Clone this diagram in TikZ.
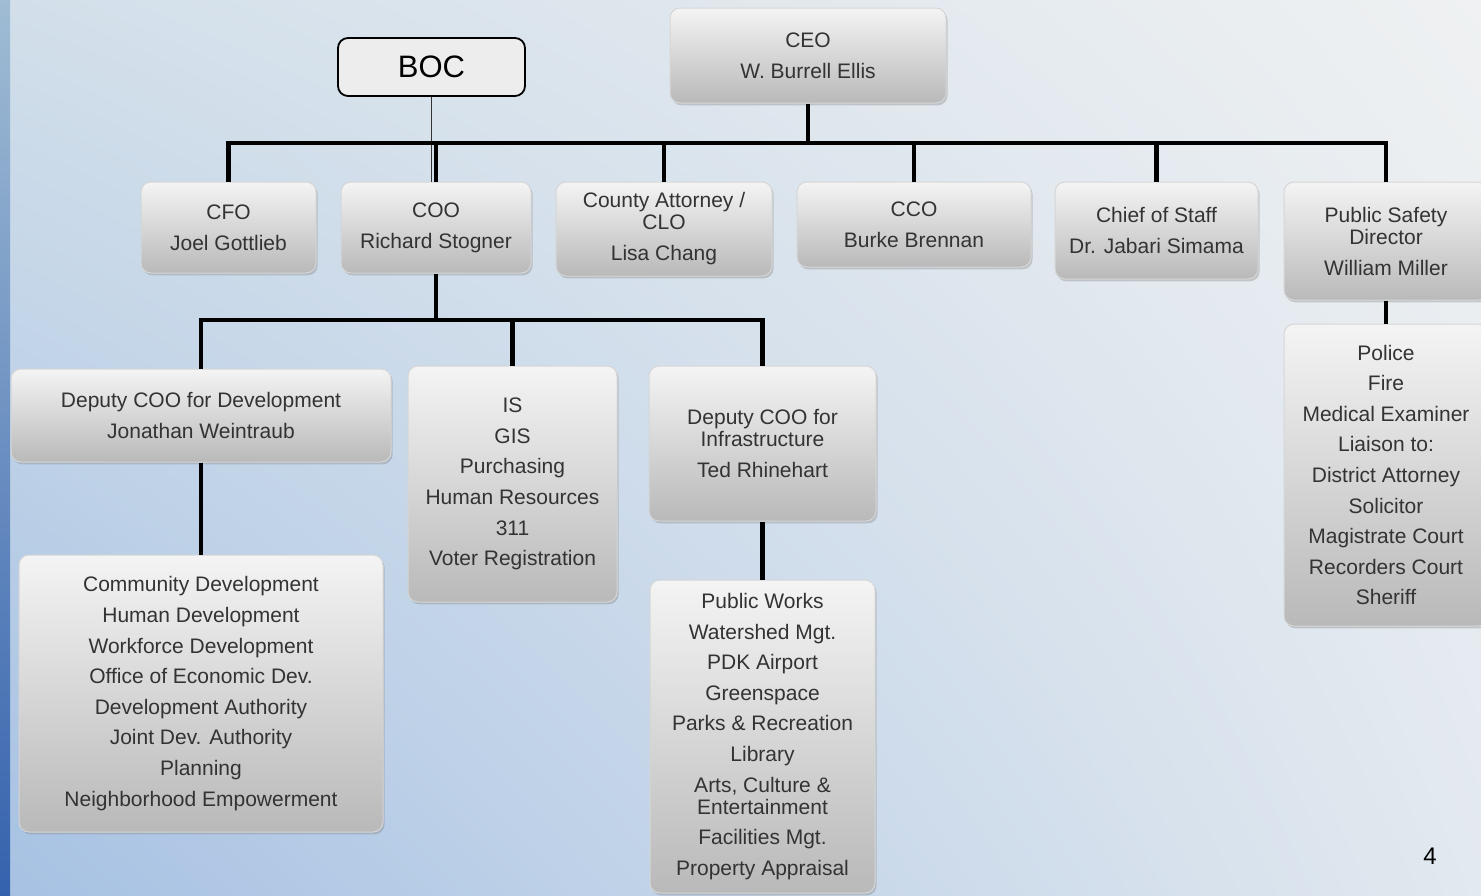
\documentclass[tikz,border=0pt]{standalone}
\usepackage{fontspec}
\setmainfont{Liberation Sans}
\usetikzlibrary{shadows,shadings}
\definecolor{txt}{HTML}{333333}
\definecolor{boxtop}{HTML}{F4F4F4}
\definecolor{boxbot}{HTML}{B9B9B9}
\definecolor{boxedge}{HTML}{D6D6D6}
\definecolor{bgUL}{HTML}{D2DFEA}
\definecolor{bgUR}{HTML}{EFF1F2}
\definecolor{bgLL}{HTML}{A6C1E3}
\definecolor{bgLR}{HTML}{E2E9EF}
\definecolor{barTop}{HTML}{A0BCD4}
\definecolor{barBot}{HTML}{3562AD}
\definecolor{bocfill}{HTML}{EDEDED}
\tikzset{
  box/.style={rectangle, rounded corners=5pt, draw=boxedge, line width=0.5pt,
    top color=boxtop, bottom color=boxbot, align=center, text=txt,
    font=\fontsize{10.5}{11}\selectfont, inner sep=0pt,
    drop shadow={shadow xshift=0.8pt, shadow yshift=-1.2pt, opacity=0.35, fill=gray}},
  bocbox/.style={rectangle, rounded corners=5pt, draw=black, line width=0.9pt,
    fill=bocfill, font=\fontsize{15.5}{18}\selectfont, text=black, inner sep=0pt},
  conn/.style={line width=2.2pt, black},
  thinconn/.style={line width=0.7pt, black!80},
}
\begin{document}
\begin{tikzpicture}[x=0.5pt,y=-0.5pt]
\useasboundingbox (0,0) rectangle (1481,895);
\clip (0,0) rectangle (1481,895);
% background
\shade[upper left=bgUL, upper right=bgUR, lower left=bgLL, lower right=bgLR] (0,0) rectangle (1481,895);
\shade[top color=barTop, bottom color=barBot] (0,0) rectangle (10,895);

% top level
\node[bocbox, minimum width=93.5pt, minimum height=29pt] (boc) at (431.5,67) {\raisebox{-1.5pt}{BOC}};
\node[box, minimum width=138pt, minimum height=47.5pt] (ceo) at (808,55.5) {CEO\\[4.5pt]W. Burrell Ellis};

% second level
\node[box, minimum width=87.5pt, minimum height=45.5pt] (cfo) at (228.5,227.5) {CFO\\[4.5pt]Joel Gottlieb};
\node[box, minimum width=95pt, minimum height=45.5pt] (coo) at (436,227.5) {COO\\[4.5pt]Richard Stogner};
\node[box, minimum width=108pt, minimum height=47pt] (ca) at (664,229) {County Attorney /\\CLO\\[4.5pt]Lisa Chang};
\node[box, minimum width=117pt, minimum height=42.5pt] (cco) at (914,224.5) {CCO\\[4.5pt]Burke Brennan};
\node[box, minimum width=101.5pt, minimum height=48.5pt] (cos) at (1156.5,230.5) {Chief of Staff\\[4.5pt]Dr. Jabari Simama};
\node[box, minimum width=102pt, minimum height=59pt] (psd) at (1386,241) {Public Safety\\Director\\[4.5pt]William Miller};

% third level
\node[box, minimum width=190pt, minimum height=46.5pt] (dev) at (201,415.5) {Deputy COO for Development\\[4.5pt]Jonathan Weintraub};
\node[box, minimum width=104.5pt, minimum height=118pt] (is) at (512.5,484) {IS\\[4.3pt]GIS\\[4.3pt]Purchasing\\[4.3pt]Human Resources\\[4.3pt]311\\[4.3pt]Voter Registration};
\node[box, minimum width=113.5pt, minimum height=77.5pt] (infra) at (762.5,443.5) {Deputy COO for\\Infrastructure\\[4.5pt]Ted Rhinehart};
\node[box, minimum width=102pt, minimum height=151pt] (police) at (1386,475) {Police\\[4.3pt]Fire\\[4.3pt]Medical Examiner\\[4.3pt]Liaison to:\\[4.3pt]District Attorney\\[4.3pt]Solicitor\\[4.3pt]Magistrate Court\\[4.3pt]Recorders Court\\[4.3pt]Sheriff};

% fourth level
\node[box, minimum width=182pt, minimum height=138.5pt] (comm) at (201,693.5) {Community Development\\[4.3pt]Human Development\\[4.3pt]Workforce Development\\[4.3pt]Office of Economic Dev.\\[4.3pt]Development Authority\\[4.3pt]Joint Dev. Authority\\[4.3pt]Planning\\[4.3pt]Neighborhood Empowerment};
\node[box, minimum width=112.5pt, minimum height=156.5pt] (pw) at (762.5,736.5) {Public Works\\[4.3pt]Watershed Mgt.\\[4.3pt]PDK Airport\\[4.3pt]Greenspace\\[4.3pt]Parks \& Recreation\\[4.3pt]Library\\[4.3pt]Arts, Culture \&\\Entertainment\\[4.3pt]Facilities Mgt.\\[4.3pt]Property Appraisal};

% connectors
\coordinate (bus) at (808,143);
\coordinate (bus2) at (436,320);
\draw[thinconn] (boc.south) -- (boc.south |- coo.north);
\draw[conn] (ceo.south) -- (bus);
\draw[conn] (cfo.north) |- (bus) -| (psd.north);
\draw[conn] (coo.north) -- (coo.north |- bus);
\draw[conn] (ca.north) -- (ca.north |- bus);
\draw[conn] (cco.north) -- (cco.north |- bus);
\draw[conn] (cos.north) -- (cos.north |- bus);
\draw[conn] (coo.south) -- (bus2);
\draw[conn] (dev.north) |- (bus2) -| (infra.north);
\draw[conn] (is.north) -- (is.north |- bus2);
\draw[conn] (dev.south) -- (comm.north);
\draw[conn] (infra.south) -- (pw.north);
\draw[conn] (psd.south) -- (police.north);

% page number
\node[font=\fontsize{12}{14}\selectfont, text=black, inner sep=0pt] (pg) at (1430,856) {4};
\end{tikzpicture}
\end{document}
